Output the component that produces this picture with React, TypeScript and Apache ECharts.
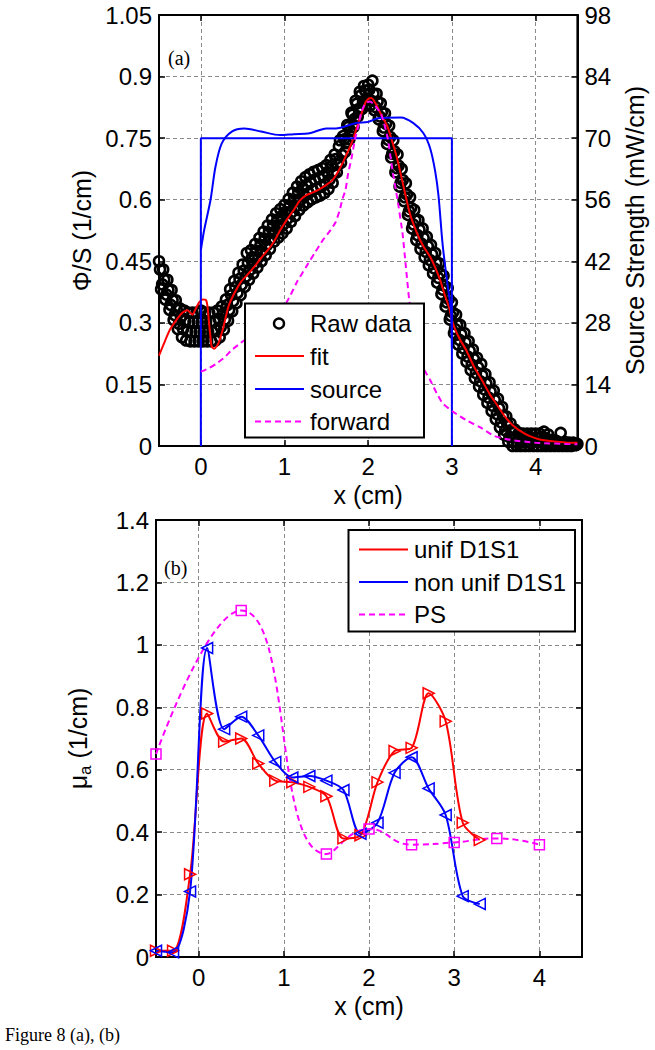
import React, { useEffect, useRef } from "react";
import * as echarts from "echarts";

// ---------- Panel (a) data ----------
// Raw data (upper / lower edges of the measured band)
const rawData: [number, number][] = [
  [-0.5,0.45],[-0.475,0.382],[-0.45,0.43],[-0.425,0.357],[-0.4,0.405],[-0.375,0.332],[-0.35,0.38],[-0.325,0.307],[-0.3,0.355],[-0.275,0.285],
  [-0.25,0.335],[-0.225,0.265],[-0.2,0.33],[-0.175,0.257],[-0.15,0.325],[-0.125,0.255],[-0.1,0.325],[-0.075,0.255],[-0.05,0.325],[-0.025,0.255],
  [0,0.33],[0.025,0.255],[0.05,0.325],[0.075,0.255],[0.1,0.325],[0.125,0.255],[0.15,0.325],[0.175,0.257],[0.2,0.33],[0.225,0.265],
  [0.25,0.34],[0.275,0.283],[0.3,0.357],[0.325,0.305],[0.35,0.382],[0.375,0.328],[0.4,0.402],[0.425,0.348],[0.45,0.422],[0.475,0.368],
  [0.5,0.442],[0.525,0.388],[0.55,0.47],[0.575,0.405],[0.6,0.477],[0.625,0.42],[0.65,0.492],[0.675,0.435],[0.7,0.507],[0.725,0.45],
  [0.75,0.522],[0.775,0.465],[0.8,0.537],[0.825,0.48],[0.85,0.552],[0.875,0.498],[0.9,0.567],[0.925,0.508],[0.95,0.577],[0.975,0.518],
  [1.0,0.587],[1.025,0.53],[1.05,0.602],[1.075,0.546],[1.1,0.617],[1.125,0.56],[1.15,0.632],[1.175,0.575],[1.2,0.645],[1.225,0.586],
  [1.25,0.655],[1.275,0.594],[1.3,0.662],[1.325,0.601],[1.35,0.668],[1.375,0.606],[1.4,0.672],[1.425,0.61],[1.45,0.677],[1.475,0.616],
  [1.5,0.684],[1.525,0.626],[1.55,0.697],[1.575,0.641],[1.6,0.71],[1.625,0.667],[1.65,0.73],[1.675,0.69],[1.7,0.755],[1.725,0.717],
  [1.75,0.782],[1.775,0.747],[1.8,0.812],[1.825,0.777],[1.85,0.841],[1.875,0.803],[1.9,0.863],[1.925,0.821],[1.95,0.877],[1.975,0.83],
  [2.0,0.88],[2.025,0.83],[2.05,0.89],[2.075,0.818],[2.1,0.858],[2.125,0.796],[2.15,0.835],[2.175,0.767],[2.2,0.81],[2.225,0.736],
  [2.25,0.78],[2.275,0.703],[2.3,0.745],[2.325,0.667],[2.35,0.71],[2.375,0.632],[2.4,0.675],[2.425,0.597],[2.45,0.64],[2.475,0.563],
  [2.5,0.606],[2.525,0.53],[2.55,0.575],[2.575,0.502],[2.6,0.55],[2.625,0.48],[2.65,0.53],[2.675,0.46],[2.7,0.51],[2.725,0.44],
  [2.75,0.49],[2.775,0.42],[2.8,0.47],[2.825,0.398],[2.85,0.445],[2.875,0.37],[2.9,0.415],[2.925,0.34],[2.95,0.385],[2.975,0.308],
  [3.0,0.35],[3.025,0.275],[3.05,0.32],[3.075,0.247],[3.1,0.295],[3.125,0.225],[3.15,0.275],[3.175,0.205],[3.2,0.255],[3.225,0.185],
  [3.25,0.235],[3.275,0.165],[3.3,0.215],[3.325,0.145],[3.35,0.2],[3.375,0.125],[3.4,0.175],[3.425,0.105],[3.45,0.155],[3.475,0.085],
  [3.5,0.135],[3.525,0.065],[3.55,0.115],[3.575,0.045],[3.6,0.095],[3.625,0.027],[3.65,0.072],[3.675,0.01],[3.7,0.055],[3.725,0.0],
  [3.75,0.04],[3.775,0.0],[3.8,0.032],[3.825,0.0],[3.85,0.03],[3.875,0.0],[3.9,0.03],[3.925,0.0],[3.95,0.03],[3.975,0.0],
  [4.0,0.03],[4.025,0.0],[4.05,0.03],[4.075,0.0],[4.1,0.035],[4.125,0.0],[4.15,0.028],[4.175,0.0],[4.2,0.015],[4.225,0.0],
  [4.25,0.012],[4.275,0.0],[4.3,0.032],[4.325,0.0],[4.35,0.01],[4.375,0.0],[4.4,0.008],[4.425,0.0],[4.45,0.008],[4.475,0.002],
  [4.5,0.005],
];
// Raw data (inner part of the band)
const rawDataInner: [number, number][] = [
  [-0.4875,0.43],[-0.4625,0.394],[-0.4375,0.405],[-0.4125,0.369],[-0.3875,0.38],[-0.3625,0.344],[-0.3375,0.355],[-0.3125,0.319],[-0.2875,0.332],[-0.2625,0.298],
  [-0.2375,0.314],[-0.2125,0.285],[-0.1875,0.305],[-0.1625,0.279],[-0.1375,0.302],[-0.1125,0.278],[-0.0875,0.302],[-0.0625,0.278],[-0.0375,0.302],[-0.0125,0.278],
  [0.0125,0.302],[0.0375,0.278],[0.0625,0.302],[0.0875,0.278],[0.1125,0.302],[0.1375,0.278],[0.1625,0.303],[0.1875,0.282],[0.2125,0.31],[0.2375,0.29],
  [0.2625,0.322],[0.2875,0.308],[0.3125,0.343],[0.3375,0.331],[0.3625,0.367],[0.3875,0.353],[0.4125,0.387],[0.4375,0.373],[0.4625,0.407],[0.4875,0.393],
  [0.5125,0.427],[0.5375,0.413],[0.5625,0.446],[0.5875,0.429],[0.6125,0.46],[0.6375,0.444],[0.6625,0.476],[0.6875,0.459],[0.7125,0.49],[0.7375,0.474],
  [0.7625,0.505],[0.7875,0.489],[0.8125,0.52],[0.8375,0.504],[0.8625,0.537],[0.8875,0.521],[0.9125,0.55],[0.9375,0.531],[0.9625,0.56],[0.9875,0.54],
  [1.0125,0.57],[1.0375,0.554],[1.0625,0.586],[1.0875,0.57],[1.1125,0.6],[1.1375,0.584],[1.1625,0.616],[1.1875,0.598],[1.2125,0.628],[1.2375,0.608],
  [1.2625,0.636],[1.2875,0.616],[1.3125,0.643],[1.3375,0.623],[1.3625,0.649],[1.3875,0.627],[1.4125,0.653],[1.4375,0.632],[1.4625,0.658],[1.4875,0.638],
  [1.5125,0.667],[1.5375,0.649],[1.5625,0.681],[1.5875,0.665],[1.6125,0.699],[1.6375,0.685],[1.6625,0.745],[1.6875,0.709],[1.7125,0.747],[1.7375,0.738],
  [1.7625,0.777],[1.7875,0.768],[1.8125,0.807],[1.8375,0.797],[1.8625,0.834],[1.8875,0.821],[1.9125,0.854],[1.9375,0.837],[1.9625,0.866],[1.9875,0.844],
  [2.0125,0.868],[2.0375,0.841],[2.0625,0.858],[2.0875,0.826],[2.1125,0.839],[2.1375,0.803],[2.1625,0.813],[2.1875,0.776],[2.2125,0.785],[2.2375,0.746],
  [2.2625,0.753],[2.2875,0.712],[2.3125,0.718],[2.3375,0.677],[2.3625,0.683],[2.3875,0.641],[2.4125,0.648],[2.4375,0.606],[2.4625,0.613],[2.4875,0.572],
  [2.5125,0.58],[2.5375,0.54],[2.5625,0.55],[2.5875,0.514],[2.6125,0.527],[2.6375,0.493],[2.6625,0.507],[2.6875,0.473],[2.7125,0.487],[2.7375,0.453],
  [2.7625,0.467],[2.7875,0.433],[2.8125,0.446],[2.8375,0.41],[2.8625,0.42],[2.8875,0.381],[2.9125,0.39],[2.9375,0.35],[2.9625,0.358],[2.9875,0.317],
  [3.0125,0.325],[3.0375,0.285],[3.0625,0.295],[3.0875,0.259],[3.1125,0.272],[3.1375,0.238],[3.1625,0.252],[3.1875,0.218],[3.2125,0.232],[3.2375,0.198],
  [3.2625,0.212],[3.2875,0.178],[3.3125,0.192],[3.3375,0.158],[3.3625,0.172],[3.3875,0.138],[3.4125,0.152],[3.4375,0.118],[3.4625,0.132],[3.4875,0.098],
  [3.5125,0.112],[3.5375,0.078],[3.5625,0.092],[3.5875,0.058],[3.6125,0.072],[3.6375,0.038],[3.6625,0.053],[3.6875,0.022],[3.7125,0.039],[3.7375,0.009],
  [3.7625,0.022],[3.7875,0.008],[3.8125,0.02],[3.8375,0.01],[3.8625,0.02],[3.8875,0.01],[3.9125,0.022],[3.9375,0.008],[3.9625,0.02],[3.9875,0.01],
  [4.0125,0.02],[4.0375,0.01],[4.0625,0.022],[4.0875,0.008],[4.1125,0.02],[4.1375,0.01],[4.1625,0.015],[4.1875,0.005],[4.2125,0.01],[4.2375,0.004],
  [4.2625,0.008],[4.2875,0.003],[4.3125,0.006],[4.3375,0.004],[4.3625,0.006],[4.3875,0.002],[4.4125,0.005],[4.4375,0.002],[4.4625,0.005],[4.4875,0.003],
];

const fitData: [number, number][] = [
  [-0.5,0.22],[-0.43,0.255],[-0.37,0.283],[-0.3,0.305],[-0.23,0.323],[-0.16,0.331],[-0.1,0.32],[-0.06,0.335],[-0.02,0.35],[0.02,0.357],
  [0.06,0.356],[0.08,0.339],[0.105,0.285],[0.13,0.242],[0.16,0.237],[0.21,0.25],[0.27,0.29],[0.33,0.34],[0.4,0.372],[0.48,0.4],
  [0.56,0.418],[0.64,0.437],[0.72,0.458],[0.8,0.477],[0.88,0.5],[0.95,0.526],[1.03,0.552],[1.11,0.575],[1.18,0.597],[1.26,0.611],
  [1.34,0.618],[1.42,0.626],[1.5,0.636],[1.57,0.647],[1.65,0.672],[1.73,0.705],[1.81,0.742],[1.87,0.78],[1.92,0.81],[1.97,0.838],
  [2.01,0.847],[2.04,0.848],[2.1,0.83],[2.16,0.805],[2.23,0.778],[2.29,0.74],[2.35,0.697],[2.43,0.625],[2.5,0.565],[2.58,0.52],
  [2.66,0.486],[2.74,0.461],[2.8,0.435],[2.86,0.404],[2.92,0.365],[2.97,0.335],[3.01,0.3],[3.09,0.262],[3.17,0.234],[3.26,0.195],
  [3.36,0.16],[3.45,0.127],[3.54,0.1],[3.63,0.073],[3.73,0.05],[3.83,0.035],[3.93,0.024],[4.05,0.016],[4.17,0.012],[4.3,0.01],
  [4.4,0.008],[4.5,0.008],
];

// source strength (mW/cm), right axis
const sourceTrue: [number, number][] = [[0,0],[0,70],[3,70],[3,0]];
const sourceRecon: [number, number][] = [
  [0,44.5],[0.04,49.1],[0.116,56],[0.175,63.5],[0.25,68.8],[0.37,71.5],[0.52,72.2],[0.72,71.5],[0.95,70.7],[1.11,70.9],
  [1.3,71.1],[1.5,72.2],[1.61,72.2],[1.85,73.4],[2.0,73.7],[2.12,74.5],[2.39,74.7],[2.54,73.4],[2.66,71.1],[2.74,67.7],
  [2.8,62.5],[2.84,56.9],[2.89,45.7],[2.95,36.4],[2.99,30.8],[3.0,22.4],
];

const forwardData: [number, number][] = [
  [0,0.181],[0.1,0.19],[0.18,0.2],[0.28,0.215],[0.37,0.234],[0.47,0.25],[0.6,0.27],[0.75,0.295],[0.9,0.322],[1.03,0.352],
  [1.15,0.4],[1.26,0.437],[1.36,0.47],[1.46,0.502],[1.55,0.526],[1.61,0.545],[1.66,0.575],[1.69,0.6],[1.73,0.625],[1.76,0.664],
  [1.8,0.7],[1.84,0.745],[1.88,0.778],[1.92,0.815],[1.97,0.835],[2.02,0.839],[2.08,0.83],[2.16,0.805],[2.23,0.753],[2.29,0.672],
  [2.35,0.6],[2.41,0.518],[2.45,0.437],[2.49,0.356],[2.54,0.28],[2.6,0.218],[2.67,0.185],[2.74,0.161],[2.82,0.128],[2.89,0.104],
  [3.01,0.084],[3.17,0.063],[3.36,0.043],[3.5,0.025],[3.7,0.015],[4.0,0.008],[4.5,0.004],
];

// ---------- Panel (b) data ----------
const unifD1S1: [number, number][] = [
  [-0.5,0.02],[-0.3,0.02],[-0.1,0.265],[0.1,0.78],[0.3,0.69],[0.5,0.70],[0.7,0.62],[0.9,0.565],[1.1,0.56],[1.3,0.545],
  [1.5,0.515],[1.7,0.38],[1.9,0.39],[2.1,0.56],[2.3,0.66],[2.5,0.67],[2.7,0.845],[2.9,0.755],[3.1,0.43],[3.3,0.375],
];
const nonUnifD1S1: [number, number][] = [
  [-0.5,0.02],[-0.3,0.015],[-0.1,0.21],[0.1,0.99],[0.3,0.73],[0.5,0.77],[0.7,0.71],[0.9,0.625],[1.1,0.575],[1.3,0.58],
  [1.5,0.565],[1.7,0.535],[1.9,0.395],[2.1,0.43],[2.3,0.59],[2.5,0.64],[2.7,0.54],[2.9,0.455],[3.1,0.195],[3.3,0.17],
];
const psData: [number, number][] = [
  [-0.5,0.65],[0.5,1.11],[1.5,0.33],[2.0,0.41],[2.5,0.36],[3.0,0.367],[3.5,0.38],[4.0,0.36],
];

const legendA = ["Raw data", "fit", "source", "forward"];
const legendB = ["unif D1S1", "non unif D1S1", "PS"];

const SANS = "'Liberation Sans', Arial, sans-serif";
const SERIF = "'Liberation Serif', 'Times New Roman', serif";
const RED = "#ff0000";
const BLUE = "#0000ff";
const MAG = "#ff00ff";

const gridLine = { show: true, lineStyle: { color: "#8a8a8a", type: [4, 3], width: 1 } };
const axisLine = { show: true, onZero: false, lineStyle: { color: "#000", width: 2 } };
const tick = { show: true, inside: true, length: 6, lineStyle: { color: "#000", width: 1.5 } };
const label = { color: "#000", fontSize: 24, fontFamily: SANS };
const nameStyle = { color: "#000", fontSize: 25, fontFamily: SANS };

function xAxes(grid: number) {
  return [
    {
      gridIndex: grid, type: "value", min: -0.5, max: 4.5, splitNumber: 5, position: "bottom",
      name: "x (cm)", nameLocation: "middle", nameGap: 36, nameTextStyle: nameStyle,
      axisLine, axisTick: tick,
      axisLabel: { ...label, margin: 8, showMinLabel: false, showMaxLabel: false },
      splitLine: gridLine,
    },
    {
      gridIndex: grid, type: "value", min: -0.5, max: 4.5, splitNumber: 5, position: "top",
      axisLine, axisTick: tick, axisLabel: { show: false }, splitLine: { show: false },
    },
  ];
}

const rawStyle = { color: "rgba(0,0,0,0)", borderColor: "#000", borderWidth: 2.6, opacity: 1 };

function buildOption() {
  const legendAGraphics: any[] = [];
  const topRows = [323.5, 356, 389, 421.5];
  legendAGraphics.push({ type: "rect", z: 100, shape: { x: 245, y: 303.5, width: 179, height: 134 }, style: { fill: "#fff", stroke: "#000", lineWidth: 2 } });
  legendAGraphics.push({ type: "circle", z: 101, shape: { cx: 279, cy: topRows[0], r: 5 }, style: { fill: "none", stroke: "#000", lineWidth: 2.4 } });
  const topColors = [null, RED, BLUE, MAG];
  legendA.forEach((t, i) => {
    if (i > 0) {
      legendAGraphics.push({ type: "line", z: 101, shape: { x1: 255, y1: topRows[i], x2: 304, y2: topRows[i] },
        style: { stroke: topColors[i], lineWidth: 2, lineDash: i === 3 ? [6, 4] : null } });
    }
    legendAGraphics.push({ type: "text", z: 101, x: 310, y: topRows[i], style: { text: t, fill: "#000", fontSize: 24, fontFamily: SANS, verticalAlign: "middle", align: "left" } });
  });

  const botRows = [549.5, 582, 614.5];
  const botColors = [RED, BLUE, MAG];
  const legendBGraphics: any[] = [{ type: "rect", z: 100, shape: { x: 348.5, y: 530, width: 226.5, height: 101.5 }, style: { fill: "#fff", stroke: "#000", lineWidth: 2 } }];
  legendB.forEach((t, i) => {
    legendBGraphics.push({ type: "line", z: 101, shape: { x1: 359, y1: botRows[i], x2: 408, y2: botRows[i] },
      style: { stroke: botColors[i], lineWidth: 2, lineDash: i === 2 ? [6, 4] : null } });
    legendBGraphics.push({ type: "text", z: 101, x: 414, y: botRows[i], style: { text: t, fill: "#000", fontSize: 24, fontFamily: SANS, verticalAlign: "middle", align: "left" } });
  });

  return {
    animation: false,
    backgroundColor: "#fff",
    grid: [
      { left: 159, top: 15, width: 429, height: 431, show: true, borderColor: "#000", borderWidth: 2, backgroundColor: "transparent" },
      { left: 156, top: 520, width: 426, height: 437, show: true, borderColor: "#000", borderWidth: 2, backgroundColor: "transparent" },
    ],
    xAxis: [...xAxes(0), ...xAxes(1)],
    yAxis: [
      {
        gridIndex: 0, type: "value", min: 0, max: 1.05, interval: 0.15, position: "left",
        name: "Φ/S (1/cm)", nameLocation: "middle", nameGap: 61, nameTextStyle: nameStyle,
        axisLine, axisTick: tick, axisLabel: { ...label, margin: 7 }, splitLine: gridLine,
      },
      {
        gridIndex: 0, type: "value", min: 0, max: 98, interval: 14, position: "right",
        name: "Source Strength (mW/cm)", nameLocation: "middle", nameGap: 38, nameTextStyle: nameStyle,
        axisLine, axisTick: tick, axisLabel: { ...label, margin: 7 }, splitLine: { show: false },
      },
      {
        gridIndex: 1, type: "value", min: 0, max: 1.4, interval: 0.2, position: "left",
        name: "{n|μ}{sub|a}{n| (1/cm)}", nameLocation: "middle", nameGap: 62,
        nameTextStyle: {
          ...nameStyle,
          rich: {
            n: { fontSize: 25, fontFamily: SANS, color: "#000", lineHeight: 32, verticalAlign: "middle" },
            sub: { fontSize: 17, fontFamily: SANS, color: "#000", lineHeight: 18, verticalAlign: "bottom" },
          },
        },
        axisLine, axisTick: tick, axisLabel: { ...label, margin: 7 }, splitLine: gridLine,
      },
      {
        gridIndex: 1, type: "value", min: 0, max: 1.4, interval: 0.2, position: "right",
        axisLine, axisTick: tick, axisLabel: { show: false }, splitLine: { show: false },
      },
    ],
    graphic: [
      ...legendAGraphics,
      ...legendBGraphics,
      { type: "text", x: 168, y: 58, style: { text: "(a)", fill: "#000", fontSize: 20, fontFamily: SERIF, verticalAlign: "middle" } },
      { type: "text", x: 164, y: 568, style: { text: "(b)", fill: "#000", fontSize: 20, fontFamily: SERIF, verticalAlign: "middle" } },
      { type: "text", x: 5, y: 1035, style: { text: "Figure 8 (a), (b)", fill: "#000", fontSize: 18, fontFamily: SERIF, verticalAlign: "middle" } },
    ],
    series: [
      {
        name: legendA[0], type: "scatter", xAxisIndex: 0, yAxisIndex: 0, data: rawData,
        symbol: "circle", symbolSize: 10, itemStyle: rawStyle,
      },
      {
        name: legendA[0] + " ", type: "scatter", xAxisIndex: 0, yAxisIndex: 0, data: rawDataInner,
        symbol: "circle", symbolSize: 10, itemStyle: rawStyle,
      },
      {
        name: legendA[1], type: "line", xAxisIndex: 0, yAxisIndex: 0, data: fitData, showSymbol: false, smooth: 0.2,
        lineStyle: { color: RED, width: 2 },
      },
      {
        name: legendA[2], type: "line", xAxisIndex: 0, yAxisIndex: 1, data: sourceTrue, showSymbol: false,
        lineStyle: { color: BLUE, width: 2 },
      },
      {
        name: legendA[2] + " (reconstructed)", type: "line", xAxisIndex: 0, yAxisIndex: 1, data: sourceRecon, showSymbol: false, smooth: 0.3,
        lineStyle: { color: BLUE, width: 2 },
      },
      {
        name: legendA[3], type: "line", xAxisIndex: 0, yAxisIndex: 0, data: forwardData, showSymbol: false, smooth: 0.2,
        lineStyle: { color: MAG, width: 2, type: [6, 4] },
      },
      {
        name: legendB[0], type: "line", xAxisIndex: 2, yAxisIndex: 2, data: unifD1S1, smooth: 0.3,
        symbol: "triangle", symbolRotate: -90, symbolSize: 11, showAllSymbol: true,
        lineStyle: { color: RED, width: 2 },
        itemStyle: { color: "rgba(0,0,0,0)", borderColor: RED, borderWidth: 1.5 },
      },
      {
        name: legendB[1], type: "line", xAxisIndex: 2, yAxisIndex: 2, data: nonUnifD1S1, smooth: 0.3,
        symbol: "triangle", symbolRotate: 90, symbolSize: 11, showAllSymbol: true,
        lineStyle: { color: BLUE, width: 2 },
        itemStyle: { color: "rgba(0,0,0,0)", borderColor: BLUE, borderWidth: 1.5 },
      },
      {
        name: legendB[2], type: "line", xAxisIndex: 2, yAxisIndex: 2, data: psData, smooth: 0.5,
        symbol: "rect", symbolSize: 10, showAllSymbol: true,
        lineStyle: { color: MAG, width: 2, type: [6, 4] },
        itemStyle: { color: "rgba(0,0,0,0)", borderColor: MAG, borderWidth: 1.5 },
      },
    ],
  };
}

export default function App() {
  const ref = useRef<HTMLDivElement>(null);
  useEffect(() => {
    document.body.style.margin = "0";
    const chart = echarts.init(ref.current as HTMLDivElement, null, { renderer: "svg" });
    chart.setOption(buildOption() as any);
    return () => chart.dispose();
  }, []);
  return <div ref={ref} style={{ position: "absolute", left: 0, top: 0, width: 655, height: 1050 }} />;
}
